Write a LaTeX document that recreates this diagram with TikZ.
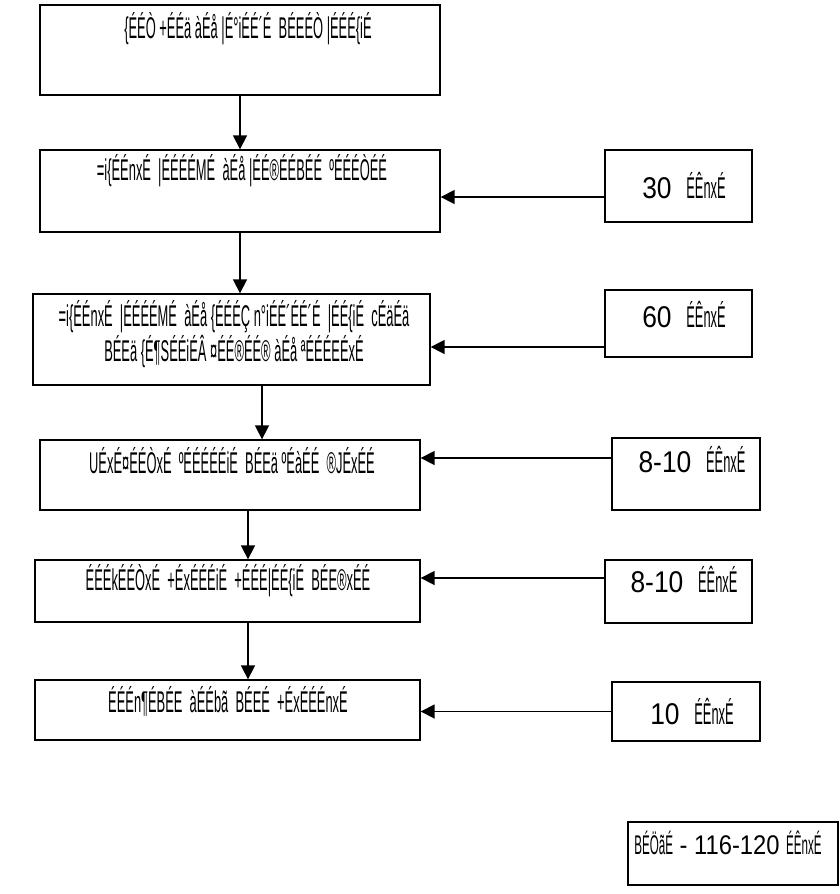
\documentclass[tikz,border=0pt]{standalone}
\usepackage{fontspec}
\setmainfont[FakeStretch=0.88]{Liberation Sans}
\newfontfamily\narrowfont[FakeStretch=0.43]{Liberation Sans}
\usetikzlibrary{arrows.meta, positioning}
\newcommand{\hn}[1]{{\narrowfont #1}}

\begin{document}
\begin{tikzpicture}[x=1pt,y=-1pt,>={Triangle[length=14pt,width=14pt]},
  box/.style={draw, rectangle, line width=1.4pt, inner sep=0pt},
  txt/.style={font=\fontsize{30}{35}\selectfont, inner sep=0pt, align=center},
  flow/.style={->, line width=1.8pt}]

  \useasboundingbox (0,0) rectangle (840,894);

% define the boxes of the main chain
  \node[box, minimum width=400pt, minimum height=90pt] (b1) at (240,50) {};
  \node[box, minimum width=400pt, minimum height=82pt] (b2) at (240,191) {};
  \node[box, minimum width=397pt, minimum height=91pt] (b3) at (231.5,339.5) {};
  \node[box, minimum width=380pt, minimum height=70pt] (b4) at (230,475) {};
  \node[box, minimum width=385pt, minimum height=62pt] (b5) at (227.5,591) {};
  \node[box, minimum width=385pt, minimum height=60pt] (b6) at (227.5,710) {};

% define the boxes of the durations
  \node[box, minimum width=147pt, minimum height=72pt] (r1) at (678.5,186) {};
  \node[box, minimum width=147pt, minimum height=67pt] (r2) at (678.5,323.5) {};
  \node[box, minimum width=148pt, minimum height=72pt] (r3) at (686,474) {};
  \node[box, minimum width=147pt, minimum height=63pt] (r4) at (678.5,591.5) {};
  \node[box, minimum width=148pt, minimum height=59pt] (r5) at (686,711.5) {};
  \node[box, minimum width=210pt, minimum height=63pt] (r6) at (733,853.5) {};

% define the texts
  \node[txt] (t1) at (248,29) {\hn{\{ÉÉÒ +ÉÉä àÉå |É°iÉÉ´É\ \ BÉEÉÒ |ÉÉÉ\{iÉ}};
  \node[txt] (t2) at (242,171) {\hn{=i\{ÉÉnxÉ\ \ |ÉÉÉÉMÉ\ \ àÉå |ÉÉ®ÉÉBÉÉ\ \ ºÉÉÉÒÉÉ}};
  \node[txt] (t3) at (234,334) {\hn{=i\{ÉÉnxÉ\ \ |ÉÉÉÉMÉ\ \ àÉå \{ÉÉÉÇ n°iÉÉ´ÉÉ´É\ \ |ÉÉ\{iÉ\ \ cÉäÉä}\\
    \hn{BÉEä \{É¶SÉÉiÉÂ ¤ÉÉ®ÉÉ® àÉå ªÉÉÉEÉxÉ}};
  \node[txt] (t4) at (232,461) {\hn{UÉxÉ¤ÉÉÒxÉ\ \ ºÉÉÉÉÉiÉ\ \ BÉEä ºÉàÉÉ\ \ ®JÉxÉÉ}};
  \node[txt] (t5) at (228,581) {\hn{ÉÉÉkÉÉÒxÉ\ \ +ÉxÉÉÉiÉ\ \ +ÉÉÉ|ÉÉ\{iÉ\ \ BÉE®xÉÉ}};
  \node[txt] (t6) at (228,701) {\hn{ÉÉÉn¶ÉBÉE\ \ àÉÉbã\ \ BÉEÉ\ \ +ÉxÉÉÉnxÉ}};

  \node[txt] (d1) at (684,186) {30\ \ \hn{ÉÊnxÉ}};
  \node[txt] (d2) at (684,315) {60\ \ \hn{ÉÊnxÉ}};
  \node[txt] (d3) at (692,460) {8-10\ \ \hn{ÉÊnxÉ}};
  \node[txt] (d4) at (684,580) {8-10\ \ \hn{ÉÊnxÉ}};
  \node[txt] (d5) at (692,712) {10\ \ \hn{ÉÊnxÉ}};
  \node[txt, font=\fontsize{27}{32}\selectfont] (d6) at (728,843) {\hn{BÉÖãÉ} - 116-120 \hn{ÉÊnxÉ}};

% define the links down the chain
  \coordinate (c3) at ([xshift=30.5pt]b3.south);
  \coordinate (c4) at ([xshift=18pt]b4.south);
  \coordinate (c5) at ([xshift=20.5pt]b5.south);
  \draw[flow] (b1.south) -- (b2.north);
  \draw[flow] (b2.south) -- (b2.south |- b3.north);
  \draw[flow] (c3) -- (c3 |- b4.north);
  \draw[flow] (c4) -- (c4 |- b5.north);
  \draw[flow] (c5) -- (c5 |- b6.north);

% define the links from the durations
  \coordinate (h1) at ([yshift=-11pt]r1.west);
  \coordinate (h2) at ([yshift=-23.5pt]r2.west);
  \coordinate (h3) at ([yshift=16pt]r3.west);
  \coordinate (h4) at ([yshift=13.5pt]r4.west);
  \coordinate (h5) at (r5.west);
  \draw[flow] (h1) -- (h1 -| b2.east);
  \draw[flow] (h2) -- (h2 -| b3.east);
  \draw[flow] (h3) -- (h3 -| b4.east);
  \draw[flow] (h4) -- (h4 -| b5.east);
  \draw[flow] (h5) -- (h5 -| b6.east);

\end{tikzpicture}
\end{document}
